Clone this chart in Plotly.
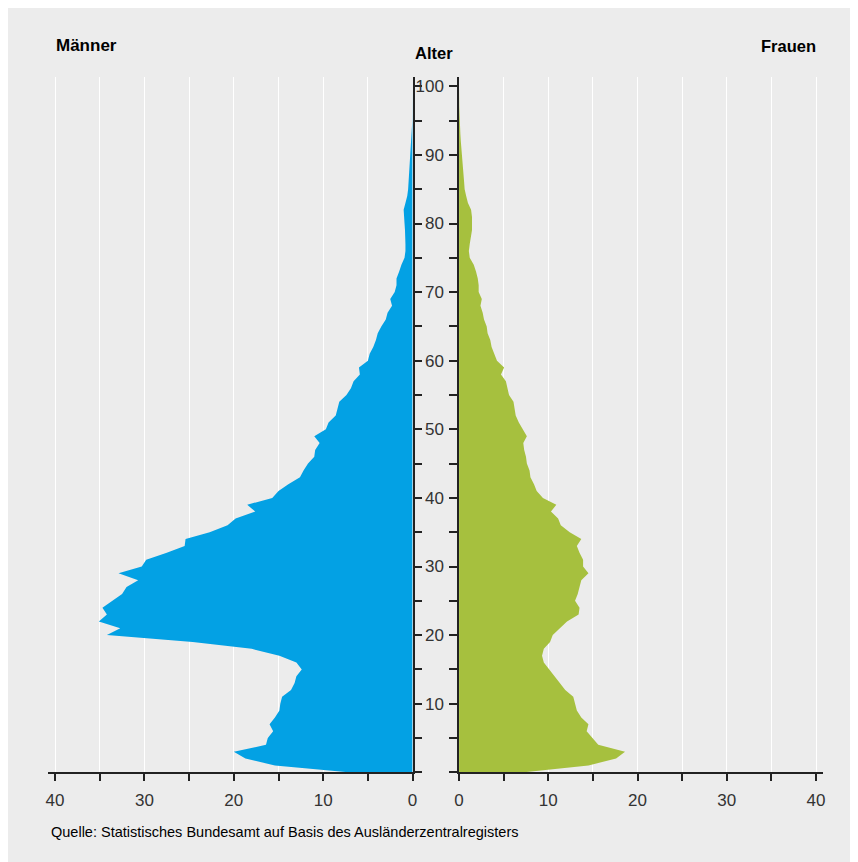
import plotly.graph_objects as go

ages = list(range(0, 101))

men = [7.2, 15.4, 18.7, 20.0, 16.4, 16.2, 15.6, 16.0, 15.4, 14.9,
       14.8, 14.6, 13.6, 13.2, 13.0, 12.4, 13.0, 14.9, 18.0, 24.6,
       34.2, 32.7, 35.1, 34.2, 34.7, 33.6, 32.5, 32.0, 30.7, 32.9,
       30.3, 29.8, 27.5, 25.5, 25.4, 22.7, 20.7, 19.8, 17.6, 18.5,
       15.7, 15.0, 13.9, 12.6, 12.2, 11.7, 11.0, 10.9, 10.4, 11.0,
       9.7, 9.4, 8.6, 8.4, 8.2, 7.4, 6.9, 6.6, 5.9, 6.0,
       5.0, 4.8, 4.4, 4.1, 3.9, 3.5, 3.0, 2.8, 2.3, 2.5,
       2.0, 1.8, 1.8, 1.5, 1.25, 0.9, 0.8, 0.8, 0.8, 0.85,
       0.9, 0.95, 1.0, 0.8, 0.6, 0.5, 0.45, 0.4, 0.3, 0.25,
       0.2, 0.15, 0.12, 0.08, 0.05, 0.03, 0.02, 0.01, 0.01, 0.0, 0.0]

women = [7.3, 14.5, 17.6, 18.6, 15.6, 15.0, 14.3, 14.5, 13.7, 13.2,
         13.0, 12.8, 11.9, 11.3, 10.6, 10.0, 9.5, 9.3, 9.5, 10.2,
         10.5, 11.3, 12.1, 13.4, 13.5, 13.0, 13.3, 13.5, 13.7, 14.5,
         13.9, 13.9, 13.5, 13.2, 13.7, 12.4, 11.4, 11.1, 10.3, 10.9,
         9.4, 8.7, 8.4, 8.0, 7.9, 7.6, 7.5, 7.3, 7.2, 7.6,
         7.1, 6.7, 6.35, 6.2, 6.1, 5.6, 5.4, 5.25, 4.7, 5.05,
         4.25, 3.95, 3.65, 3.5, 3.2, 3.1, 2.8, 2.65, 2.4, 2.55,
         2.2, 2.2, 2.1, 1.9, 1.65, 1.2, 1.1, 1.2, 1.3, 1.45,
         1.45, 1.45, 1.35, 1.0, 0.8, 0.63, 0.57, 0.5, 0.4, 0.33,
         0.3, 0.25, 0.2, 0.15, 0.1, 0.08, 0.05, 0.03, 0.02, 0.01, 0.0]

x_tickvals = list(range(0, 41, 5))
x_ticktext = [str(v) if v % 10 == 0 else "" for v in x_tickvals]
age_tickvals = list(range(0, 101, 5))
age_ticktext = [str(v) if (v % 10 == 0 and v > 0) else "" for v in age_tickvals]

title_men = "Männer"
title_age = "Alter"
title_women = "Frauen"
source = "Quelle: Statistisches Bundesamt auf Basis des Ausländerzentralregisters"

W, H = 858, 862
OX, OY = 8, 8  # page offset of the figure
BG = "#ececec"
BLUE = "#03a1e4"
GREEN = "#a6c03e"
AXC = "#222222"
TXT = "#333333"
FONT = "Liberation Sans"

def px(x):
    return (x - OX) / W

def py(y):
    return 1 - (y - OY) / H

fig = go.Figure()
fig.add_trace(go.Scatter(x=men, y=ages, xaxis="x", yaxis="y", mode="lines",
                         line=dict(width=0, color=BLUE), fill="tozerox",
                         fillcolor=BLUE, hoverinfo="skip"))
fig.add_trace(go.Scatter(x=women, y=ages, xaxis="x2", yaxis="y2", mode="lines",
                         line=dict(width=0, color=GREEN), fill="tozerox",
                         fillcolor=GREEN, hoverinfo="skip"))

ydom = [py(772.3), py(77)]
yr = [0, (772.3 - 77) / 6.86]

common_x = dict(showline=True, linecolor=AXC, linewidth=1.5, ticks="outside",
                ticklen=7, tickwidth=1.5, tickcolor=AXC, showgrid=True,
                gridcolor="white", gridwidth=1, zeroline=False,
                tickvals=x_tickvals, ticktext=x_ticktext, ticklabelstandoff=5,
                tickfont=dict(family=FONT, size=17, color=TXT))

fig.update_layout(
    width=W, height=H,
    margin=dict(l=0, r=0, t=0, b=0),
    paper_bgcolor=BG, plot_bgcolor="rgba(0,0,0,0)",
    showlegend=False,
    xaxis=dict(domain=[px(43.3), px(412.3)], range=[40.8, 0], anchor="y", **common_x),
    xaxis2=dict(domain=[px(459.3), px(827.7)], range=[0, 40.8], anchor="y2", **common_x),
    yaxis=dict(domain=ydom, range=yr, anchor="x", side="right", showline=True,
               linecolor=AXC, linewidth=1.5, ticks="outside", ticklen=8,
               tickwidth=1.5, tickcolor=AXC, showgrid=False, zeroline=False,
               tickvals=age_tickvals, showticklabels=False),
    yaxis2=dict(domain=ydom, range=yr, anchor="x2", side="left", showline=True,
                linecolor=AXC, linewidth=1.5, ticks="outside", ticklen=8,
                tickwidth=1.5, tickcolor=AXC, showgrid=False, zeroline=False,
                tickvals=age_tickvals, ticktext=age_ticktext, ticklabelstandoff=2,
                tickfont=dict(family=FONT, size=17, color=TXT)),
    annotations=[
        dict(text=title_men, x=px(49), y=py(46), xref="paper", yref="paper",
             xanchor="left", yanchor="middle", showarrow=False,
             font=dict(family=FONT, size=17, color="black", weight="bold")),
        dict(text=title_age, x=px(434), y=py(53), xref="paper", yref="paper",
             xanchor="center", yanchor="middle", showarrow=False,
             font=dict(family=FONT, size=16.5, color="black", weight="bold")),
        dict(text=title_women, x=px(822), y=py(46), xref="paper", yref="paper",
             xanchor="right", yanchor="middle", showarrow=False,
             font=dict(family=FONT, size=16.5, color="black", weight="bold")),
        dict(text=source, x=px(44), y=py(832), xref="paper", yref="paper",
             xanchor="left", yanchor="middle", showarrow=False,
             font=dict(family=FONT, size=14.5, color="black")),
    ],
)

fig.write_html("out.html")
